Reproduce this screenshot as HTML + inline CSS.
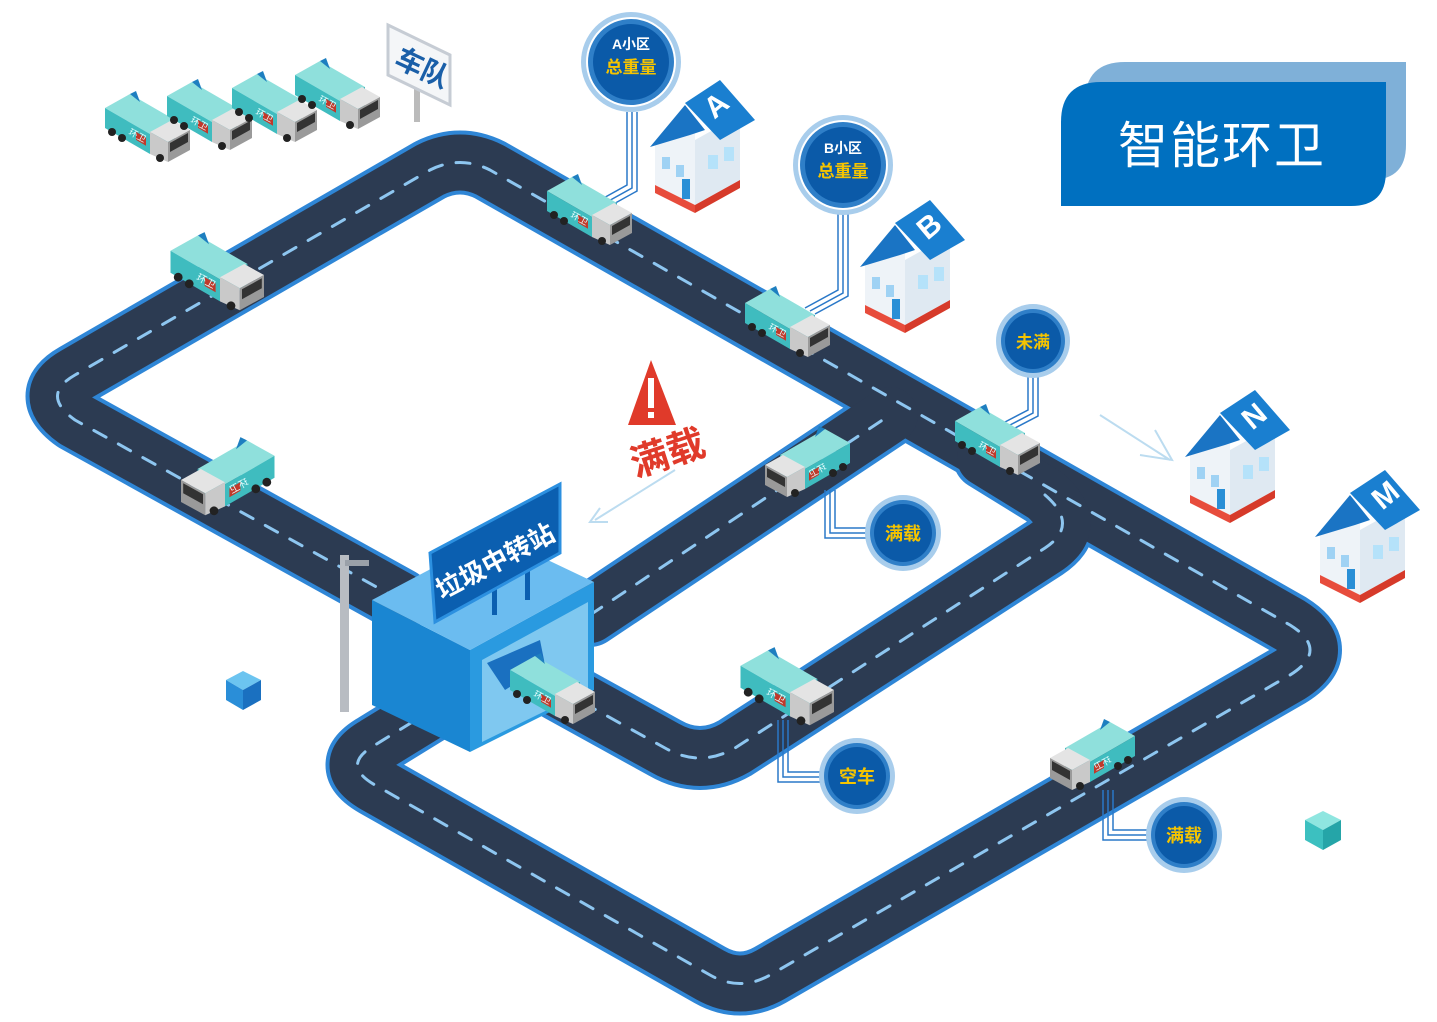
<!DOCTYPE html>
<html><head><meta charset="utf-8"><style>
html,body{margin:0;padding:0;background:#fff;}
svg{display:block;font-family:"Liberation Sans","Noto Sans CJK SC",sans-serif;}
</style></head><body>
<svg width="1437" height="1022" viewBox="0 0 1437 1022" xmlns="http://www.w3.org/2000/svg">
<defs>
<g id="truck">
  <polygon points="-45,-22 -20,-36 25,-10 0,4" fill="#8fe0dc"/>
  <polygon points="-45,-22 0,4 0,24 -45,-2" fill="#3fbcbf"/>
  <polygon points="-20,-36 -14,-39 -10,-28" fill="#1e7fc0"/>
  <polygon points="0,4 25,-10 25,10 0,24" fill="#2aa3ad"/>
  <polygon points="0,2 22,-10 40,0 18,12" fill="#e4e4e4"/>
  <polygon points="18,12 40,0 40,20 18,32" fill="#9a9a9a"/>
  <polygon points="20,13 38,3 38,12 20,22" fill="#333"/>
  <polygon points="0,2 18,12 18,32 0,24" fill="#c9c9c9"/>
  <rect x="-14" y="10" width="10" height="8" fill="#c0392b" transform="skewY(30)"/>
  <circle cx="-38" cy="2" r="4" fill="#222"/><circle cx="-28" cy="8" r="4" fill="#222"/>
  <circle cx="10" cy="28" r="4" fill="#222"/>
  <text x="-22" y="4" font-size="9" fill="#e8ffff" transform="rotate(28 -22 4)">环卫</text>
</g>
<g id="house">
  <polygon points="-45,20 -45,-20 -5,-40 -5,40" fill="#eef3f8"/>
  <polygon points="-5,40 -5,-25 40,-50 40,15" fill="#dfe9f2"/>
  <polygon points="-50,-18 -15,-60 5,-35 -10,-30" fill="#1a74c4"/>
  <polygon points="-15,-62 20,-85 55,-45 20,-25" fill="#1a7fd0"/>
  <polygon points="-45,20 -5,40 -5,48 -45,28" fill="#e74c3c"/>
  <polygon points="-5,40 40,15 40,23 -5,48" fill="#d63a2a"/>
  <rect x="-38" y="-8" width="8" height="12" fill="#9fd2f4"/><rect x="-24" y="0" width="8" height="12" fill="#9fd2f4"/>
  <rect x="8" y="-10" width="10" height="14" fill="#b5e2fa"/><rect x="24" y="-18" width="10" height="14" fill="#b5e2fa"/>
  <rect x="-18" y="14" width="8" height="20" fill="#2a8fd6"/>
</g>
</defs>

<!-- Roads -->
<g fill="none" stroke-linejoin="round" stroke-linecap="round">
  <g stroke="#2f86d6" stroke-width="64">
    <path d="M400,600 L75,420 Q40,395 75,375 L430,170 Q460,155 490,170 L1290,625 Q1330,650 1290,675 L770,975 Q740,992 710,975 L375,785 Q340,765 375,745 L440,705"/>
    <path d="M590,615 L890,415"/>
    <path d="M985,458 L1045,495 Q1080,525 1045,548 L735,748 Q700,768 665,748 L560,690"/>
  </g>
  <g stroke="#2c3b52" stroke-width="56">
    <path d="M400,600 L75,420 Q40,395 75,375 L430,170 Q460,155 490,170 L1290,625 Q1330,650 1290,675 L770,975 Q740,992 710,975 L375,785 Q340,765 375,745 L440,705"/>
    <path d="M590,615 L890,415"/>
    <path d="M985,458 L1045,495 Q1080,525 1045,548 L735,748 Q700,768 665,748 L560,690"/>
  </g>
  <g stroke="#8ec6f0" stroke-width="3" stroke-dasharray="14 14">
    <path d="M400,600 L75,420 Q40,395 75,375 L430,170 Q460,155 490,170 L1290,625 Q1330,650 1290,675 L770,975 Q740,992 710,975 L375,785 Q340,765 375,745 L440,705"/>
    <path d="M590,615 L890,415"/>
    <path d="M1045,495 Q1080,525 1045,548 L735,748 Q700,768 665,748 L560,690"/>
  </g>
</g>

<!-- Title -->
<path d="M1125,62 L1406,62 L1406,145 Q1406,180 1370,180 L1085,180 L1085,102 Q1085,62 1125,62Z" fill="#7fb0d8"/>
<path d="M1101,82 L1386,82 L1386,171 Q1386,206 1351,206 L1061,206 L1061,122 Q1061,82 1101,82Z" fill="#0070c0"/>
<text x="1222" y="163" font-size="50" fill="#fff" text-anchor="middle" letter-spacing="2">智能环卫</text>

<!-- Fleet sign -->
<rect x="414" y="80" width="6" height="42" fill="#bbb"/>
<polygon points="388,25 450,55 450,105 388,75" fill="#f4f6f8" stroke="#c6ccd4" stroke-width="3"/>
<text x="393" y="65" font-size="28" font-weight="bold" fill="#1a5fa8" transform="rotate(25 393 65)">车队</text>

<!-- Fleet trucks -->
<use href="#truck" transform="translate(150,130)"/>
<use href="#truck" transform="translate(212,118)"/>
<use href="#truck" transform="translate(277,110)"/>
<use href="#truck" transform="translate(340,97)"/>

<!-- Houses -->
<use href="#house" transform="translate(700,165)"/>
<use href="#house" transform="translate(910,285)"/>
<use href="#house" transform="translate(1235,475)"/>
<use href="#house" transform="translate(1365,555)"/>
<text x="705" y="116" font-size="30" font-weight="bold" fill="#fff" transform="rotate(-40 715 105)">A</text>
<text x="918" y="237" font-size="30" font-weight="bold" fill="#fff" transform="rotate(-40 928 226)">B</text>
<text x="1243" y="427" font-size="30" font-weight="bold" fill="#fff" transform="rotate(-40 1253 416)">N</text>
<text x="1373" y="507" font-size="30" font-weight="bold" fill="#fff" transform="rotate(-40 1383 496)">M</text>

<!-- connectors -->
<g fill="none" stroke="#2a78c8" stroke-width="1.5">
  <path d="M627,112 V185 L600,200 M632,112 V188 L605,203 M637,112 V191 L610,206"/>
  <path d="M838,212 V290 L805,308 M843,212 V293 L810,311 M848,212 V296 L815,314"/>
  <path d="M1028,376 V410 L1005,422 M1033,376 V413 L1010,425 M1038,376 V416 L1015,428"/>
  <path d="M825,490 V538 H868 M830,490 V533 H868 M835,490 V528 H868"/>
  <path d="M778,720 V782 H822 M783,720 V777 H822 M788,720 V772 H822"/>
  <path d="M1103,790 V840 H1150 M1108,790 V835 H1150 M1113,790 V830 H1150"/>
</g>

<!-- Badges -->
<g>
  <circle cx="631" cy="62" r="50" fill="#a8cdec"/><circle cx="631" cy="62" r="45" fill="#fff"/><circle cx="631" cy="62" r="43" fill="#2f7fc8"/><circle cx="631" cy="62" r="38" fill="#0b5aa8"/>
  <text x="631" y="49" font-size="14" font-weight="bold" fill="#fff" text-anchor="middle">A小区</text>
  <text x="631" y="73" font-size="17" font-weight="bold" fill="#f5c400" text-anchor="middle">总重量</text>
  <circle cx="843" cy="165" r="50" fill="#a8cdec"/><circle cx="843" cy="165" r="45" fill="#fff"/><circle cx="843" cy="165" r="43" fill="#2f7fc8"/><circle cx="843" cy="165" r="38" fill="#0b5aa8"/>
  <text x="843" y="153" font-size="14" font-weight="bold" fill="#fff" text-anchor="middle">B小区</text>
  <text x="843" y="177" font-size="17" font-weight="bold" fill="#f5c400" text-anchor="middle">总重量</text>
  <circle cx="1033" cy="341" r="37" fill="#a8cdec"/><circle cx="1033" cy="341" r="32" fill="#2f7fc8"/><circle cx="1033" cy="341" r="28" fill="#0b5aa8"/>
  <text x="1033" y="348" font-size="17" font-weight="bold" fill="#f5c400" text-anchor="middle">未满</text>
  <circle cx="903" cy="533" r="38" fill="#a8cdec"/><circle cx="903" cy="533" r="33" fill="#2f7fc8"/><circle cx="903" cy="533" r="29" fill="#0b5aa8"/>
  <text x="903" y="540" font-size="18" font-weight="bold" fill="#f5c400" text-anchor="middle">满载</text>
  <circle cx="857" cy="776" r="38" fill="#a8cdec"/><circle cx="857" cy="776" r="33" fill="#2f7fc8"/><circle cx="857" cy="776" r="29" fill="#0b5aa8"/>
  <text x="857" y="783" font-size="18" font-weight="bold" fill="#f5c400" text-anchor="middle">空车</text>
  <circle cx="1184" cy="835" r="38" fill="#a8cdec"/><circle cx="1184" cy="835" r="33" fill="#2f7fc8"/><circle cx="1184" cy="835" r="29" fill="#0b5aa8"/>
  <text x="1184" y="842" font-size="18" font-weight="bold" fill="#f5c400" text-anchor="middle">满载</text>
</g>

<!-- Road trucks -->
<use href="#truck" transform="translate(592,213)"/>
<use href="#truck" transform="translate(790,325)"/>
<use href="#truck" transform="translate(1000,443)"/>
<use href="#truck" transform="translate(220,275) scale(1.1)"/>
<use href="#truck" transform="translate(225,480) scale(-1.1,1.1)"/>
<use href="#truck" transform="translate(805,465) scale(-1,1)"/>
<use href="#truck" transform="translate(790,690) scale(1.1)"/>
<use href="#truck" transform="translate(1090,758) scale(-1,1)"/>

<!-- Warning -->
<polygon points="651,360 676,425 628,425" fill="#e03a2a"/>
<rect x="648" y="378" width="6" height="30" fill="#fff"/><rect x="648" y="412" width="6" height="6" fill="#fff"/>
<text x="628" y="470" font-size="38" font-weight="bold" fill="#e03a2a" transform="rotate(-18 655 450)">满载</text>
<path d="M675,470 L595,520 M600,508 L590,522 L608,522" fill="none" stroke="#bcdcf0" stroke-width="2"/>
<path d="M1100,415 L1170,460 M1155,430 L1172,460 L1140,455" fill="none" stroke="#bcdcf0" stroke-width="2"/>

<!-- Pole -->
<rect x="340" y="555" width="9" height="157" fill="#b8bcc2"/>
<rect x="345" y="560" width="24" height="6" fill="#9aa0a8"/>

<!-- Station -->
<polygon points="372,600 470,650 470,752 372,705" fill="#1a86d2"/>
<polygon points="470,650 594,582 594,690 470,752" fill="#2a9ae0"/>
<polygon points="482,660 588,602 588,690 482,742" fill="#7fc8f0"/>
<polygon points="372,600 495,535 594,582 470,650" fill="#6bbcf0"/>
<rect x="492" y="585" width="5" height="30" fill="#0b5fb0"/><rect x="525" y="570" width="5" height="30" fill="#0b5fb0"/>
<polygon points="430,553 560,484 560,553 435,622" fill="#0b5fb0" stroke="#2c90e0" stroke-width="3"/>
<text x="442" y="600" font-size="26" font-weight="bold" fill="#fff" transform="rotate(-28 442 600)">垃圾中转站</text>
<polygon points="487,663 540,640 545,665 505,690" fill="#1a70c0"/>
<use href="#truck" transform="translate(555,692)"/>

<!-- Cubes -->
<polygon points="226,680 243,671 261,680 243,690" fill="#6cc4f0"/>
<polygon points="226,680 243,690 243,710 226,700" fill="#2a8ed8"/>
<polygon points="243,690 261,680 261,700 243,710" fill="#1a70c0"/>
<polygon points="1305,820 1323,811 1341,820 1323,830" fill="#8fe6e0"/>
<polygon points="1305,820 1323,830 1323,850 1305,840" fill="#3cc0c0"/>
<polygon points="1323,830 1341,820 1341,840 1323,850" fill="#25a5a8"/>
</svg>
</body></html>
